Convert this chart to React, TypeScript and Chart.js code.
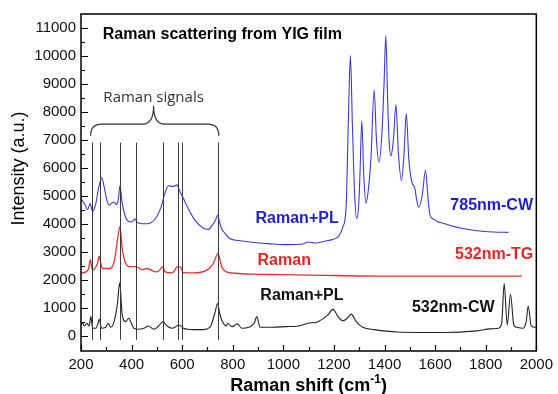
import React, { useEffect, useRef } from "react";
import { Chart, registerables } from "chart.js";

Chart.register(...registerables);

// ---- Axis ranges and ticks ----
const X_MIN = 200;
const X_MAX = 2000;
const Y_MIN = -550;
const Y_MAX = 11500;
const X_TICKS = [200, 400, 600, 800, 1000, 1200, 1400, 1600, 1800, 2000];
const X_MINOR = [300, 500, 700, 900, 1100, 1300, 1500, 1700, 1900];
const Y_TICKS = [0, 1000, 2000, 3000, 4000, 5000, 6000, 7000, 8000, 9000, 10000, 11000];
const Y_MINOR = [500, 1500, 2500, 3500, 4500, 5500, 6500, 7500, 8500, 9500, 10500];

// ---- Spectra: [Raman shift (cm-1), intensity (a.u.)] ----
const SPEC_785_CW: [number, number][] = [
  [200, 4890], [215, 4700], [226, 4500], [236, 4720], [246, 4440], [258, 4700], [270, 5300],
  [282, 5640], [292, 5300], [302, 4850], [311, 4660], [322, 4740], [331, 4770], [341, 4690],
  [348, 4900], [354, 5370], [362, 4800], [376, 4240], [396, 4060], [406, 4100], [413, 4180],
  [420, 4080], [429, 4020], [461, 4000], [494, 4180], [514, 4530], [533, 5130], [546, 5360],
  [565, 5330], [579, 5390], [592, 5130], [605, 4900], [618, 4650], [651, 4120], [683, 3850],
  [703, 3800], [723, 4000], [733, 4150], [740, 4300], [748, 4050], [756, 3820], [770, 3650],
  [788, 3470], [823, 3400], [874, 3340], [941, 3290], [1007, 3255], [1072, 3265], [1098, 3345],
  [1124, 3310], [1176, 3400], [1216, 3530], [1235, 3880], [1248, 4590], [1257, 7680],
  [1265, 10020], [1273, 7500], [1282, 5000], [1290, 4180], [1298, 4700], [1303, 5800],
  [1310, 7680], [1318, 5700], [1327, 4740], [1337, 5300], [1346, 6300], [1359, 8780],
  [1368, 7000], [1378, 6200], [1390, 7300], [1398, 9000], [1405, 10730], [1412, 8500],
  [1418, 7000], [1425, 6430], [1435, 7000], [1445, 8250], [1455, 6500], [1467, 5540],
  [1477, 6500], [1486, 7940], [1496, 6300], [1510, 5430], [1519, 5300], [1528, 4800],
  [1536, 4590], [1550, 5100], [1562, 5920], [1572, 4900], [1580, 4300], [1592, 4180],
  [1608, 4080], [1632, 4020], [1660, 3940], [1700, 3845], [1765, 3750], [1830, 3705], [1890, 3690],
];

const SPEC_532_TG: [number, number][] = [
  [200, 2240], [220, 2280], [230, 2400], [237, 2720], [244, 2380], [250, 2360], [259, 2460],
  [266, 2600], [272, 2840], [279, 2550], [285, 2400], [311, 2400], [331, 2630], [344, 3400],
  [354, 3900], [363, 3110], [376, 2600], [396, 2460], [416, 2470], [442, 2360], [461, 2400],
  [494, 2280], [510, 2330], [522, 2460], [533, 2280], [559, 2240], [572, 2350], [579, 2460],
  [592, 2460], [605, 2250], [644, 2240], [697, 2340], [723, 2580], [733, 2800], [742, 2950],
  [750, 2700], [756, 2460], [775, 2280], [810, 2230], [875, 2200], [1000, 2180], [1100, 2160],
  [1200, 2150], [1372, 2130], [1500, 2130], [1700, 2130], [1800, 2130], [1944, 2130],
];

const SPEC_532_CW: [number, number][] = [
  [200, 380], [206, 460], [213, 345], [223, 440], [232, 345], [239, 680], [246, 265], [259, 265],
  [266, 400], [272, 585], [281, 265], [298, 300], [307, 440], [318, 300], [331, 500], [340, 900],
  [344, 1150], [353, 1890], [363, 740], [376, 500], [389, 620], [399, 440], [409, 265], [429, 230],
  [448, 265], [468, 345], [487, 230], [507, 345], [524, 500], [540, 345], [560, 265], [579, 345],
  [589, 380], [605, 265], [644, 215], [683, 215], [710, 300], [729, 800], [740, 1150], [748, 800],
  [756, 560], [775, 345], [780, 440], [797, 320], [817, 420], [836, 265], [863, 300], [885, 450],
  [895, 680], [908, 300], [954, 300], [1007, 320], [1059, 345], [1098, 440], [1137, 500],
  [1176, 740], [1196, 940], [1216, 680], [1235, 530], [1252, 620], [1268, 770], [1288, 500],
  [1314, 300], [1360, 215], [1450, 130], [1634, 110], [1765, 170], [1817, 240], [1850, 265],
  [1863, 440], [1873, 1860], [1885, 380], [1898, 1470], [1911, 380], [1922, 300], [1948, 265],
  [1960, 500], [1968, 1060], [1980, 345], [1993, 300], [2000, 300],
];

// Raman signal marker positions (cm-1) and their vertical extent
const RAMAN_LINES = [242, 274, 353, 418, 523, 582, 599, 742];
const RAMAN_LINE_SPAN = [-150, 6900];

// ---- Styles / annotation placement (not data) ----
const FONT = '"Liberation Sans", Arial, sans-serif';
const BLUE_LINE = "#3b3bd2";
const RED_LINE = "#e03434";
const BLACK_LINE = "#222222";
const BLUE_TEXT = "#1e1ed0";
const RED_TEXT = "#e42626";

const BRACE = { x0: 238, xm: 487, x1: 745, yEnd: 7150, yBar: 7560, yTip: 8220 };

const LABELS = [
  { text: "Raman scattering from YIG film", x: 286, y: 10776, align: "left", color: "#000", font: `bold 16px ${FONT}` },
  { text: "Raman signals", x: 487, y: 8508, align: "center", color: "#333", font: `15px "Open Sans", sans-serif` },
  { text: "Raman+PL", x: 890, y: 4190, align: "left", color: BLUE_TEXT, font: `bold 16px ${FONT}` },
  { text: "Raman", x: 898, y: 2695, align: "left", color: RED_TEXT, font: `bold 16px ${FONT}` },
  { text: "Raman+PL", x: 909, y: 1449, align: "left", color: "#111", font: `bold 16px ${FONT}` },
  { text: "785nm-CW", x: 1987, y: 4653, align: "right", color: BLUE_TEXT, font: `bold 16px ${FONT}` },
  { text: "532nm-TG", x: 1988, y: 2909, align: "right", color: RED_TEXT, font: `bold 16px ${FONT}` },
  { text: "532nm-CW", x: 1835, y: 997, align: "right", color: "#111", font: `bold 16px ${FONT}` },
];

const toXY = (arr: [number, number][]) => arr.map(([x, y]) => ({ x, y }));

const overlayPlugin = {
  id: "overlay",
  afterDatasetsDraw(chart: any) {
    const { ctx, scales } = chart;
    const xs = scales.x;
    const ys = scales.y;
    ctx.save();

    // Raman signal lines
    ctx.strokeStyle = "#3a3a3a";
    ctx.lineWidth = 1;
    RAMAN_LINES.forEach((v) => {
      const px = Math.round(xs.getPixelForValue(v)) + 0.5;
      ctx.beginPath();
      ctx.moveTo(px, ys.getPixelForValue(RAMAN_LINE_SPAN[0]));
      ctx.lineTo(px, ys.getPixelForValue(RAMAN_LINE_SPAN[1]));
      ctx.stroke();
    });

    // Brace
    const L = xs.getPixelForValue(BRACE.x0);
    const M = xs.getPixelForValue(BRACE.xm);
    const R = xs.getPixelForValue(BRACE.x1);
    const yE = ys.getPixelForValue(BRACE.yEnd);
    const yB = ys.getPixelForValue(BRACE.yBar);
    const yT = ys.getPixelForValue(BRACE.yTip);
    const r = 11;
    ctx.strokeStyle = "#333";
    ctx.lineWidth = 1.2;
    ctx.beginPath();
    ctx.moveTo(L, yE);
    ctx.quadraticCurveTo(L, yB, L + r, yB);
    ctx.lineTo(M - r, yB);
    ctx.quadraticCurveTo(M, yB, M, yT);
    ctx.quadraticCurveTo(M, yB, M + r, yB);
    ctx.lineTo(R - r, yB);
    ctx.quadraticCurveTo(R, yB, R, yE);
    ctx.stroke();

    // Text labels
    ctx.textBaseline = "middle";
    LABELS.forEach((l) => {
      ctx.font = l.font;
      ctx.fillStyle = l.color;
      ctx.textAlign = l.align as CanvasTextAlign;
      ctx.fillText(l.text, xs.getPixelForValue(l.x), ys.getPixelForValue(l.y));
    });

    ctx.restore();
  },
  afterDraw(chart: any) {
    const { ctx, chartArea: a, scales } = chart;
    const xs = scales.x;
    const ys = scales.y;
    ctx.save();
    ctx.strokeStyle = "#000";
    ctx.lineWidth = 1.5;
    ctx.strokeRect(a.left, a.top, a.right - a.left, a.bottom - a.top);

    ctx.lineWidth = 1.2;
    ctx.beginPath();
    Y_TICKS.forEach((v) => {
      const py = Math.round(ys.getPixelForValue(v)) + 0.5;
      ctx.moveTo(a.left, py);
      ctx.lineTo(a.left + 7, py);
    });
    Y_MINOR.forEach((v) => {
      const py = Math.round(ys.getPixelForValue(v)) + 0.5;
      ctx.moveTo(a.left, py);
      ctx.lineTo(a.left + 4, py);
    });
    X_TICKS.forEach((v) => {
      const px = Math.round(xs.getPixelForValue(v)) + 0.5;
      ctx.moveTo(px, a.bottom);
      ctx.lineTo(px, a.bottom - 6);
    });
    X_MINOR.forEach((v) => {
      const px = Math.round(xs.getPixelForValue(v)) + 0.5;
      ctx.moveTo(px, a.bottom);
      ctx.lineTo(px, a.bottom - 4);
    });
    ctx.stroke();

    // Y axis title
    ctx.fillStyle = "#000";
    ctx.font = `18px ${FONT}`;
    ctx.textAlign = "center";
    ctx.textBaseline = "middle";
    ctx.save();
    ctx.translate(19, (a.top + a.bottom) / 2 - 14);
    ctx.rotate(-Math.PI / 2);
    ctx.fillText("Intensity (a.u.)", 0, 0);
    ctx.restore();

    // X axis title with superscript
    const main = "Raman shift (cm";
    const sup = "-1";
    const end = ")";
    ctx.textBaseline = "alphabetic";
    ctx.textAlign = "left";
    const mainFont = `bold 18px ${FONT}`;
    const supFont = `bold 12px ${FONT}`;
    ctx.font = mainFont;
    const w1 = ctx.measureText(main).width;
    const w3 = ctx.measureText(end).width;
    ctx.font = supFont;
    const w2 = ctx.measureText(sup).width;
    const total = w1 + w2 + w3;
    const cx = (a.left + a.right) / 2;
    let sx = cx - total / 2;
    const base = 391;
    ctx.font = mainFont;
    ctx.fillText(main, sx, base);
    sx += w1;
    ctx.font = supFont;
    ctx.fillText(sup, sx, base - 8);
    sx += w2;
    ctx.font = mainFont;
    ctx.fillText(end, sx, base);
    ctx.restore();
  },
};

export default function App() {
  const ref = useRef<HTMLCanvasElement | null>(null);

  useEffect(() => {
    if (!ref.current) return;
    const tickFont = { family: FONT, size: 15 };
    const plain = (v: any) => String(v);
    const chart = new Chart(ref.current, {
      type: "line",
      data: {
        datasets: [
          {
            label: "785nm-CW",
            data: toXY(SPEC_785_CW),
            borderColor: BLUE_LINE,
            borderWidth: 1.1,
            pointRadius: 0,
            cubicInterpolationMode: "monotone",
            fill: false,
          },
          {
            label: "532nm-TG",
            data: toXY(SPEC_532_TG),
            borderColor: RED_LINE,
            borderWidth: 1.3,
            pointRadius: 0,
            cubicInterpolationMode: "monotone",
            fill: false,
          },
          {
            label: "532nm-CW",
            data: toXY(SPEC_532_CW),
            borderColor: BLACK_LINE,
            borderWidth: 1.1,
            pointRadius: 0,
            cubicInterpolationMode: "monotone",
            fill: false,
          },
        ],
      },
      options: {
        animation: false,
        responsive: false,
        events: [],
        layout: { padding: { left: 0, right: 18, top: 13, bottom: 0 } },
        plugins: { legend: { display: false }, tooltip: { enabled: false }, title: { display: false } },
        scales: {
          x: {
            type: "linear",
            min: X_MIN,
            max: X_MAX,
            afterBuildTicks: (s: any) => {
              s.ticks = X_TICKS.map((v) => ({ value: v }));
            },
            afterFit: (s: any) => {
              s.height = 43;
            },
            ticks: { font: tickFont, color: "#111", padding: 5, maxRotation: 0, autoSkip: false, callback: plain },
            grid: { display: false, drawTicks: false },
            border: { display: false },
          },
          y: {
            type: "linear",
            min: Y_MIN,
            max: Y_MAX,
            afterBuildTicks: (s: any) => {
              s.ticks = Y_TICKS.map((v) => ({ value: v }));
            },
            afterFit: (s: any) => {
              s.width = 81;
            },
            ticks: { font: tickFont, color: "#111", padding: 5, autoSkip: false, callback: plain },
            grid: { display: false, drawTicks: false },
            border: { display: false },
          },
        },
      },
      plugins: [overlayPlugin],
    });
    return () => chart.destroy();
  }, []);

  return (
    <div style={{ position: "fixed", left: 0, top: 0, width: 558, height: 394, background: "#fff" }}>
      <canvas ref={ref} width={558} height={394} style={{ display: "block" }} />
    </div>
  );
}
